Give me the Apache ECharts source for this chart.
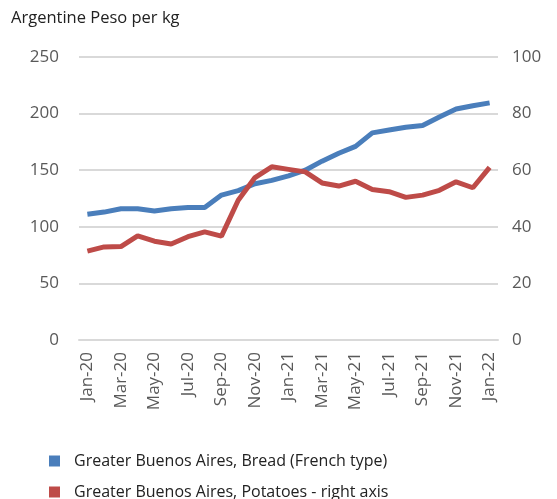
<!DOCTYPE html>
<html>
<head>
<meta charset="utf-8">
<script src="https://cdn.jsdelivr.net/npm/echarts@6/dist/echarts.min.js"></script>
<style>html,body{margin:0;padding:0;background:#fff;}#c{width:557px;height:499px;}</style>
</head>
<body>
<div id="c"></div>
<script>
var categories = ['Jan-20','Feb-20','Mar-20','Apr-20','May-20','Jun-20','Jul-20','Aug-20','Sep-20','Oct-20','Nov-20','Dec-20',
  'Jan-21','Feb-21','Mar-21','Apr-21','May-21','Jun-21','Jul-21','Aug-21','Sep-21','Oct-21','Nov-21','Dec-21','Jan-22'];
var breadValues = [111,113,116,116,114,116,117,117,128,132,138,141,145,150,158,165,171,183,185.5,188,189.5,197,204,207,209.5];
var potatoValues = [31.4,32.9,33,36.8,34.9,33.9,36.5,38.2,36.7,49.4,57.4,61.2,60.3,59.4,55.5,54.4,56.1,53.2,52.4,50.4,51.2,52.9,55.9,53.8,61];
var breadName = 'Greater Buenos Aires, Bread (French type)';
var potatoName = 'Greater Buenos Aires, Potatoes - right axis';
var leftTicks = {min:0, max:250, interval:50};
var rightTicks = {min:0, max:100, interval:20};

var chart = echarts.init(document.getElementById('c'), null, {renderer:'canvas'});
var font = 'Open Sans, Noto Sans, sans-serif';
function legendAt(name, top) {
  return {left: 44, top: top, itemWidth: 11, itemHeight: 11, icon: 'rect',
    textStyle: {fontSize: 16, color: '#222', fontFamily: font, padding: [0,0,0,9]},
    data: [name]};
}
chart.setOption({
  animation: false,
  backgroundColor: '#fff',
  textStyle: {fontFamily: font},
  title: {text: 'Argentine Peso per kg', left: 6, top: 5,
    textStyle: {fontSize: 16.5, fontWeight: 'normal', color: '#222', fontFamily: font}},
  grid: {left: 79, right: 59, top: 57, bottom: 159},
  legend: [legendAt(breadName, 448), legendAt(potatoName, 479)],
  xAxis: {type: 'category', data: categories, boundaryGap: true,
    axisLine: {lineStyle: {color: '#d9d9d9', width: 2}},
    axisTick: {interval: 1, length: 5, lineStyle: {color: '#d9d9d9', width: 2}},
    axisLabel: {interval: 1, rotate: 90, fontSize: 17, color: '#595959', margin: 12, fontFamily: font}},
  yAxis: [
    {type: 'value', min: leftTicks.min, max: leftTicks.max, interval: leftTicks.interval,
      axisLine: {show: false}, axisTick: {show: false},
      splitLine: {lineStyle: {color: '#d9d9d9', width: 2}},
      axisLabel: {fontSize: 17, color: '#595959', margin: 20, fontFamily: font}},
    {type: 'value', min: rightTicks.min, max: rightTicks.max, interval: rightTicks.interval,
      axisLine: {show: false}, axisTick: {show: false}, splitLine: {show: false},
      axisLabel: {fontSize: 17, color: '#595959', margin: 14, fontFamily: font}}
  ],
  series: [
    {name: breadName, type: 'line', yAxisIndex: 0, data: breadValues, symbol: 'none',
      lineStyle: {width: 5, color: '#4a7ebb'}, itemStyle: {color: '#4a7ebb'}},
    {name: potatoName, type: 'line', yAxisIndex: 1, data: potatoValues, symbol: 'none',
      lineStyle: {width: 5, color: '#be4b48'}, itemStyle: {color: '#be4b48'}}
  ]
});
</script>
</body>
</html>
